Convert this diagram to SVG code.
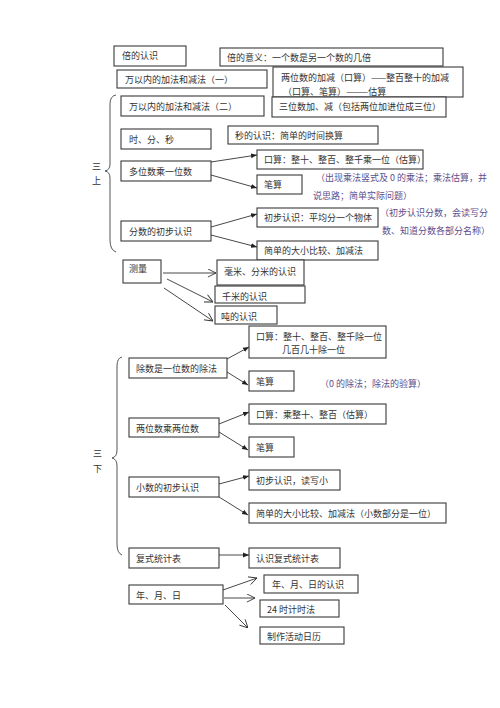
<svg xmlns="http://www.w3.org/2000/svg" width="500" height="708" viewBox="0 0 500 708">
<defs>
<style>
.b{fill:#fff;stroke:#3a3a3a;stroke-width:1.1}
.t{font-family:"Noto Sans CJK SC","Noto Sans",sans-serif;font-size:9px;fill:#333;dominant-baseline:central}
.n{font-family:"Noto Sans CJK SC","Noto Sans",sans-serif;font-size:9px;fill:#5b4e8c;dominant-baseline:central}
.l{stroke:#333;stroke-width:0.9;fill:none}
.br{stroke:#555;stroke-width:1;fill:none}
</style>
<marker id="fa" viewBox="0 0 10 10" refX="10" refY="5" markerWidth="6" markerHeight="6" orient="auto" markerUnits="userSpaceOnUse"><path d="M0,1 L10,5 L0,9 Z" fill="#222"/></marker>
<marker id="oa" viewBox="0 0 10 10" refX="10" refY="5" markerWidth="9" markerHeight="9" orient="auto" markerUnits="userSpaceOnUse"><path d="M1,0.5 L10,5 L1,9.5" fill="none" stroke="#333" stroke-width="1"/></marker>
</defs>
<rect width="500" height="708" fill="#fff"/>

<g id="n1"><rect class="b" x="114" y="46" width="72" height="20"/><text class="t" x="122" y="55">倍的认识</text></g>
<g id="n2"><rect class="b" x="220" y="48" width="223" height="18"/><text class="t" x="227" y="57">倍的意义：一个数是另一个数的几倍</text></g>
<g id="n3"><rect class="b" x="117" y="70" width="150" height="18"/><text class="t" x="125" y="79">万以内的加法和减法（一）</text></g>
<g id="n4"><rect class="b" x="273" y="67" width="190" height="30"/><text class="t" x="281" y="77">两位数的加减（口算）——整百整十的加减</text><text class="t" x="283" y="91">（口算、笔算）———估算</text></g>
<g id="n5"><rect class="b" x="121" y="96" width="143" height="20"/><text class="t" x="129" y="106">万以内的加法和减法（二）</text></g>
<g id="n6"><rect class="b" x="272" y="97" width="174" height="20"/><text class="t" x="279" y="106">三位数加、减（包括两位加进位成三位）</text></g>
<g id="n7"><rect class="b" x="121" y="129" width="90" height="20"/><text class="t" x="129" y="139">时、分、秒</text></g>
<g id="n8"><rect class="b" x="228" y="126" width="150" height="18"/><text class="t" x="235" y="135">秒的认识：简单的时间换算</text></g>
<g id="n9"><rect class="b" x="257" y="150" width="166" height="19"/><text class="t" x="264" y="159">口算：整十、整百、整千乘一位（估算）</text></g>
<g id="n10"><rect class="b" x="121" y="161" width="90" height="20"/><text class="t" x="129" y="171">多位数乘一位数</text></g>
<g id="n11"><rect class="b" x="257" y="175" width="45" height="19"/><text class="t" x="264" y="184">笔算</text></g>
<g id="a1"><text class="n" x="316" y="177">（出现乘法竖式及 0 的乘法；乘法估算，并</text><text class="n" x="313" y="195">说思路；简单实际问题）</text></g>
<g id="n12"><rect class="b" x="257" y="208" width="121" height="19"/><text class="t" x="264" y="217">初步认识：平均分一个物体</text></g>
<g id="a2"><text class="n" x="380" y="212">（初步认识分数，会读写分</text><text class="n" x="382" y="230">数、知道分数各部分名称）</text></g>
<g id="n13"><rect class="b" x="121" y="221" width="90" height="20"/><text class="t" x="129" y="231">分数的初步认识</text></g>
<g id="n14"><rect class="b" x="257" y="241" width="121" height="19"/><text class="t" x="264" y="250">简单的大小比较、加减法</text></g>
<g id="n15"><rect class="b" x="123" y="260" width="38" height="23"/><text class="t" x="129" y="268">测量</text></g>
<g id="n16"><rect class="b" x="217" y="260" width="87" height="25"/><text class="t" x="224" y="271">毫米、分米的认识</text></g>
<g id="n17"><rect class="b" x="215" y="286" width="90" height="17"/><text class="t" x="222" y="296">千米的认识</text></g>
<g id="n18"><rect class="b" x="215" y="306" width="62" height="18"/><text class="t" x="221" y="316">吨的认识</text></g>

<g id="n19"><rect class="b" x="249" y="326" width="137" height="32"/><text class="t" x="256" y="336">口算：整十、整百、整千除一位</text><text class="t" x="282" y="349">几百几十除一位</text></g>
<g id="n20"><rect class="b" x="129" y="358" width="98" height="20"/><text class="t" x="136" y="368">除数是一位数的除法</text></g>
<g id="n21"><rect class="b" x="249" y="371" width="45" height="20"/><text class="t" x="256" y="381">笔算</text></g>
<g id="a3"><text class="n" x="320" y="383">（0 的除法；除法的验算）</text></g>
<g id="n22"><rect class="b" x="249" y="404" width="137" height="20"/><text class="t" x="256" y="414">口算：乘整十、整百（估算）</text></g>
<g id="n23"><rect class="b" x="129" y="418" width="90" height="19"/><text class="t" x="136" y="428">两位数乘两位数</text></g>
<g id="n24"><rect class="b" x="249" y="437" width="45" height="20"/><text class="t" x="256" y="447">笔算</text></g>
<g id="n25"><rect class="b" x="249" y="470" width="91" height="20"/><text class="t" x="256" y="480">初步认识，读写小</text></g>
<g id="n26"><rect class="b" x="129" y="477" width="90" height="20"/><text class="t" x="136" y="487">小数的初步认识</text></g>
<g id="n27"><rect class="b" x="249" y="503" width="197" height="20"/><text class="t" x="256" y="513">简单的大小比较、加减法（小数部分是一位）</text></g>
<g id="n28"><rect class="b" x="129" y="548" width="90" height="20"/><text class="t" x="136" y="558">复式统计表</text></g>
<g id="n29"><rect class="b" x="249" y="548" width="91" height="20"/><text class="t" x="256" y="558">认识复式统计表</text></g>
<g id="n30"><rect class="b" x="129" y="585" width="94" height="19"/><text class="t" x="136" y="595">年、月、日</text></g>
<g id="n31"><rect class="b" x="264" y="575" width="94" height="18"/><text class="t" x="272" y="584">年、月、日的认识</text></g>
<g id="n32"><rect class="b" x="260" y="600" width="79" height="17"/><text class="t" x="267" y="609">24 时计时法</text></g>
<g id="n33"><rect class="b" x="260" y="627" width="84" height="17"/><text class="t" x="267" y="636">制作活动日历</text></g>

<g id="labels">
<text class="t" x="92" y="166">三</text><text class="t" x="92" y="180">上</text>
<text class="t" x="93" y="453">三</text><text class="t" x="93" y="468">下</text>
</g>

<g id="braces">
<path class="br" d="M116,95 Q110,96 110,104 L110,164 Q110,170 105,171 Q110,172 110,178 L110,240 Q110,250 116,252"/>
<path class="br" d="M122,357 Q117,358 117,366 L117,450 Q117,457 112,458 Q117,459 117,466 L117,544 Q117,553 122,555"/>
</g>

<g id="connectors">
<line class="l" x1="211" y1="162" x2="257" y2="155" marker-end="url(#fa)"/>
<line class="l" x1="211" y1="175" x2="257" y2="188" marker-end="url(#fa)"/>
<line class="l" x1="211" y1="227" x2="257" y2="214" marker-end="url(#fa)"/>
<line class="l" x1="211" y1="235" x2="257" y2="247" marker-end="url(#fa)"/>
<line class="l" x1="163" y1="273" x2="216" y2="273" marker-end="url(#oa)"/>
<line class="l" x1="167" y1="279" x2="213" y2="302" marker-end="url(#oa)"/>
<line class="l" x1="164" y1="288" x2="213" y2="321" marker-end="url(#oa)"/>
<line class="l" x1="227" y1="359" x2="249" y2="347" marker-end="url(#fa)"/>
<line class="l" x1="227" y1="372" x2="248" y2="385" marker-end="url(#fa)"/>
<line class="l" x1="219" y1="424" x2="249" y2="412" marker-end="url(#fa)"/>
<line class="l" x1="219" y1="432" x2="248" y2="450" marker-end="url(#fa)"/>
<line class="l" x1="219" y1="484" x2="249" y2="476" marker-end="url(#fa)"/>
<line class="l" x1="219" y1="497" x2="248" y2="515" marker-end="url(#fa)"/>
<line class="l" x1="219" y1="555" x2="249" y2="555" marker-end="url(#fa)"/>
<line class="l" x1="223" y1="590" x2="257" y2="578" marker-end="url(#oa)"/>
<line class="l" x1="224" y1="598" x2="255" y2="598" marker-end="url(#oa)"/>
<line class="l" x1="225" y1="605" x2="248" y2="628" marker-end="url(#oa)"/>
</g>
</svg>
